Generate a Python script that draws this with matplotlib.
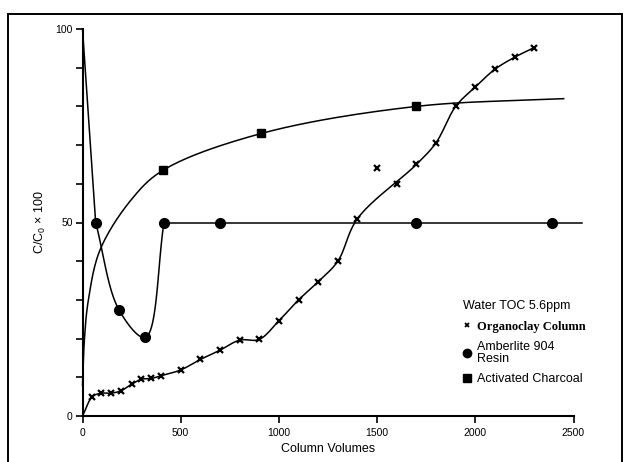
import numpy as np
import matplotlib
matplotlib.use("Agg")
import matplotlib.pyplot as plt
from matplotlib.lines import Line2D
from matplotlib.patches import Rectangle

plt.rcParams["font.family"] = ["Liberation Sans", "DejaVu Sans"]
plt.rcParams["mathtext.fontset"] = "custom"
plt.rcParams["mathtext.rm"] = "Liberation Sans"

# organoclay column (x markers); 1500 and 1600 lie off the drawn curve
org_x = [0, 50, 95, 145, 195, 250, 300, 350, 400, 500, 600, 700, 800, 900,
         1000, 1100, 1200, 1300, 1400, 1500, 1600, 1700, 1800, 1900, 2000,
         2100, 2200, 2300]
org_y = [0, 5.0, 5.9, 5.9, 6.5, 8.2, 9.5, 9.7, 10.4, 11.9, 14.6, 17.0, 19.6,
         19.8, 24.6, 30, 34.7, 40, 51, 64, 60, 65, 70.6, 80, 85, 89.6, 92.7,
         95.2]
org_outliers = [1500, 1600]

# amberlite 904 resin (circles)
amb_x = [0, 67, 185, 320, 415, 700, 1700, 2390]
amb_y = [100, 50, 27.5, 20.3, 50, 50, 50, 50]
amb_line_end = 2545

# activated charcoal (squares) and its fitted curve
char_x = [410, 910, 1700]
char_y = [63.5, 73, 80]
char_curve_x = [0, 10, 30, 90, 250, 410, 910, 1700, 2450]
char_curve_y = [8, 20, 30, 43, 56, 63.5, 73, 80, 82]

xticks = [0, 500, 1000, 1500, 2000, 2500]
yticks = [0, 50, 100]

SX, SY = 0.2, 3.9   # rough pixel scale, keeps the spline shape sane


def smooth(x, y, n=24, alpha=0.5):
    """centripetal catmull-rom through the given points"""
    P = np.column_stack([np.asarray(x, float) * SX, np.asarray(y, float) * SY])
    P = np.vstack([2 * P[0] - P[1], P, 2 * P[-1] - P[-2]])
    out = []
    for i in range(len(P) - 3):
        p0, p1, p2, p3 = P[i:i + 4]
        t0 = 0.0
        t1 = t0 + np.linalg.norm(p1 - p0) ** alpha
        t2 = t1 + np.linalg.norm(p2 - p1) ** alpha
        t3 = t2 + np.linalg.norm(p3 - p2) ** alpha
        t = np.linspace(t1, t2, n, endpoint=False)[:, None]
        a1 = (t1 - t) / (t1 - t0) * p0 + (t - t0) / (t1 - t0) * p1
        a2 = (t2 - t) / (t2 - t1) * p1 + (t - t1) / (t2 - t1) * p2
        a3 = (t3 - t) / (t3 - t2) * p2 + (t - t2) / (t3 - t2) * p3
        b1 = (t2 - t) / (t2 - t0) * a1 + (t - t0) / (t2 - t0) * a2
        b2 = (t3 - t) / (t3 - t1) * a2 + (t - t1) / (t3 - t1) * a3
        out.append((t2 - t) / (t2 - t1) * b1 + (t - t1) / (t2 - t1) * b2)
    out.append(P[-2][None])
    out = np.vstack(out)
    return out[:, 0] / SX, out[:, 1] / SY


fig = plt.figure(figsize=(6.3, 4.62), dpi=100)
ax = fig.add_axes([82.5 / 630, 46 / 462, 491 / 630, 387 / 462])

lw = 1.1

# organoclay
line_x = [a for a in org_x if a not in org_outliers]
line_y = [b for a, b in zip(org_x, org_y) if a not in org_outliers]
sx, sy = smooth(line_x, line_y, n=12)
ax.plot(sx, sy, color="k", lw=lw, clip_on=False)
ax.plot(org_x[1:], org_y[1:], ls="none", marker="x", ms=4.5, mew=1.6,
        color="k", clip_on=False)

# amberlite: straight drop, smooth dip, then flat
ax.plot(amb_x[:2], amb_y[:2], color="k", lw=lw, clip_on=False)
sx, sy = smooth(amb_x[1:5], amb_y[1:5])
ax.plot(sx, sy, color="k", lw=lw, clip_on=False)
ax.plot(amb_x[4:] + [amb_line_end], amb_y[4:] + [amb_y[-1]], color="k",
        lw=lw, clip_on=False)
ax.plot(amb_x[1:], amb_y[1:], ls="none", marker="o", ms=7, color="k",
        clip_on=False)

# charcoal
sx, sy = smooth(char_curve_x, char_curve_y)
ax.plot(sx, sy, color="k", lw=lw, clip_on=False)
ax.plot(char_x, char_y, ls="none", marker="s", ms=5.8, color="k",
        clip_on=False)

ax.set_xlim(0, 2500)
ax.set_ylim(0, 100)
ax.set_xticks(xticks)
ax.set_yticks(yticks)
ax.set_yticks(np.arange(0, 101, 10), minor=True)
ax.tick_params(direction="out", length=5, width=1.2, labelsize=7.5, pad=2)
ax.tick_params(axis="y", which="minor", direction="out", length=5, width=1.2)
ax.tick_params(axis="x", pad=4)
for s in ["top", "right"]:
    ax.spines[s].set_visible(False)
for s in ["left", "bottom"]:
    ax.spines[s].set_linewidth(1.5)

ax.set_xlabel("Column Volumes", fontsize=9, labelpad=3)
ax.set_ylabel("C/C$_\\mathrm{0}$ × 100", fontsize=9, labelpad=5)

handles = [
    Line2D([], [], ls="none", marker="x", ms=3.5, mew=1.3, color="k"),
    Line2D([], [], ls="none", marker="o", ms=6, color="k"),
    Line2D([], [], ls="none", marker="s", ms=5.5, color="k"),
]
labels = ["Organoclay Column", "Amberlite 904\nResin", "Activated Charcoal"]
leg = ax.legend(handles, labels, title="Water TOC 5.6ppm", loc="upper left",
                bbox_to_anchor=(0.775, 0.30), frameon=False, fontsize=9,
                title_fontsize=9, alignment="left", handlelength=0.6,
                handletextpad=0.5, labelspacing=0.7, borderpad=0,
                borderaxespad=0)
leg.get_texts()[0].set_fontfamily(["Liberation Serif", "DejaVu Serif"])
leg.get_texts()[0].set_fontweight("bold")
for t in leg.get_texts()[1:]:
    t.set_linespacing(0.9)

fig.patches.append(Rectangle((8 / 630, -0.05), 614 / 630, 448 / 462 + 0.05,
                             transform=fig.transFigure, fill=False, lw=1.4,
                             edgecolor="k"))

fig.savefig("out.png", dpi=100)
